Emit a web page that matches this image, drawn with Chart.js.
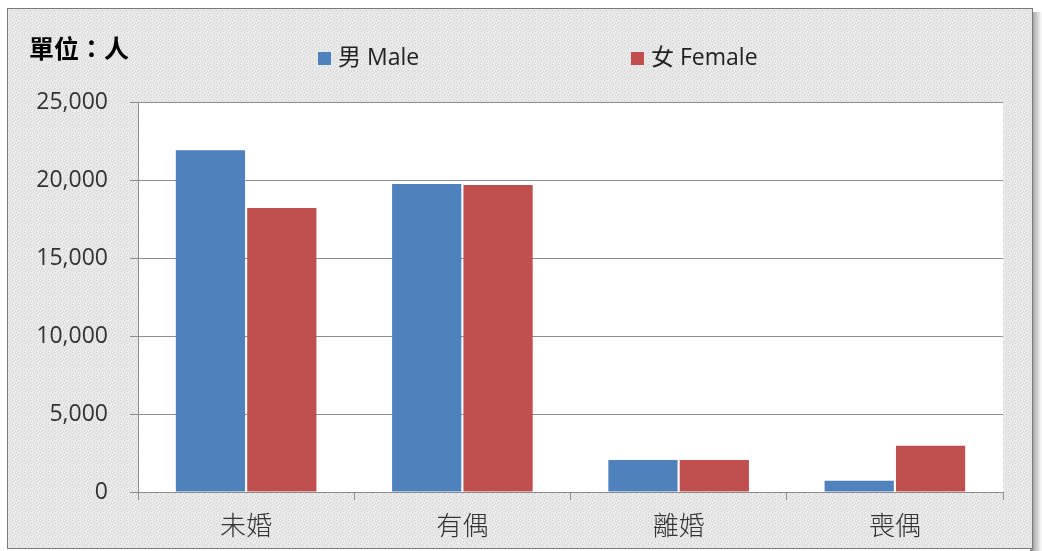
<!DOCTYPE html>
<html>
<head>
<meta charset="utf-8">
<script src="https://cdn.jsdelivr.net/npm/chart.js@4"></script>
<style>
  html, body { margin: 0; padding: 0; background: #fff; }
  #wrap { width: 1042px; height: 551px; }
</style>
</head>
<body>
<div id="wrap"><canvas id="chart" width="1042" height="551"></canvas></div>
<script>
// categories and series values
var categories = ['未婚', '有偶', '離婚', '喪偶'];
var maleValues = [21900, 19750, 2050, 720];
var femaleValues = [18200, 19680, 2050, 2970];
var seriesNames = ['男 Male', '女 Female'];
var unitLabel = '單位：人';

var blue = '#4F81BD';
var red = '#C0504D';
var gridColor = '#8e8e8e';

// small deterministic speckle tile for the textured background
function makePattern(ctx) {
  var t = document.createElement('canvas');
  t.width = 6; t.height = 6;
  var c = t.getContext('2d');
  c.fillStyle = '#e4e4e4';
  c.fillRect(0, 0, 6, 6);
  c.fillStyle = '#f6f6f6';
  [[0,0],[3,1],[1,3],[4,4],[2,5],[5,2],[2,2]].forEach(function(p){ c.fillRect(p[0], p[1], 1, 1); });
  c.fillStyle = '#d2d2d2';
  [[1,1],[4,2],[0,4],[3,5]].forEach(function(p){ c.fillRect(p[0], p[1], 1, 1); });
  return ctx.createPattern(t, 'repeat');
}

var frame = {
  id: 'frame',
  beforeDraw: function(chart) {
    var ctx = chart.ctx;
    ctx.save();
    ctx.fillStyle = '#ffffff';
    ctx.fillRect(0, 0, chart.width, chart.height);
    // right shadow
    var g = ctx.createLinearGradient(1030, 0, 1042, 0);
    g.addColorStop(0, '#8a8a8a');
    g.addColorStop(1, '#ffffff');
    ctx.fillStyle = g;
    ctx.fillRect(1030, 12, 12, 539);
    ctx.fillStyle = makePattern(ctx);
    ctx.fillRect(7, 8, 1026, 541);
    ctx.strokeStyle = '#7a7a7a';
    ctx.lineWidth = 1;
    ctx.strokeRect(7.5, 8.5, 1025, 540);
    // plot area
    var a = chart.chartArea;
    ctx.fillStyle = '#ffffff';
    ctx.fillRect(a.left, a.top, a.right - a.left, a.bottom - a.top);
    ctx.restore();
  },
  afterDraw: function(chart) {
    var ctx = chart.ctx;
    ctx.save();
    // unit label
    ctx.fillStyle = '#000';
    ctx.font = 'bold 25px "Noto Sans CJK TC"';
    ctx.textBaseline = 'middle';
    ctx.textAlign = 'left';
    ctx.fillText(unitLabel, 29, 48);
    // legend
    var spots = [318, 631];
    ctx.font = '23px "Open Sans", "Noto Sans CJK TC"';
    chart.data.datasets.forEach(function(ds, i) {
      ctx.fillStyle = ds.backgroundColor;
      ctx.fillRect(spots[i], 52, 13, 13);
      ctx.fillStyle = '#222';
      ctx.fillText(ds.label, spots[i] + 20, 58);
    });
    ctx.restore();
  }
};

new Chart(document.getElementById('chart'), {
  type: 'bar',
  data: {
    labels: categories,
    datasets: [
      { label: seriesNames[0], data: maleValues, backgroundColor: blue, borderWidth: 0 },
      { label: seriesNames[1], data: femaleValues, backgroundColor: red, borderWidth: 0 }
    ]
  },
  options: {
    responsive: false,
    animation: false,
    layout: { padding: { left: 20, right: 39, top: 102, bottom: 0 } },
    datasets: { bar: { categoryPercentage: 0.66, barPercentage: 0.97 } },
    plugins: {
      legend: { display: false },
      tooltip: { enabled: false }
    },
    scales: {
      y: {
        min: 0, max: 25000,
        afterFit: function(s) { s.width = 118; },
        ticks: {
          stepSize: 5000,
          padding: 22,
          color: '#333',
          font: { family: '"Open Sans", "Noto Sans"', size: 23 },
          callback: function(v) { return v.toLocaleString('en-US'); }
        },
        grid: { color: gridColor, tickLength: 8 },
        border: { display: true, color: gridColor }
      },
      x: {
        afterFit: function(s) { s.height = 59; },
        ticks: {
          padding: 10,
          color: '#333',
          font: { family: '"Noto Sans CJK TC"', size: 26, weight: '300' }
        },
        grid: { display: true, drawOnChartArea: false, color: gridColor, tickLength: 8, offset: true },
        border: { display: true, color: gridColor }
      }
    }
  },
  plugins: [frame]
});
</script>
</body>
</html>
